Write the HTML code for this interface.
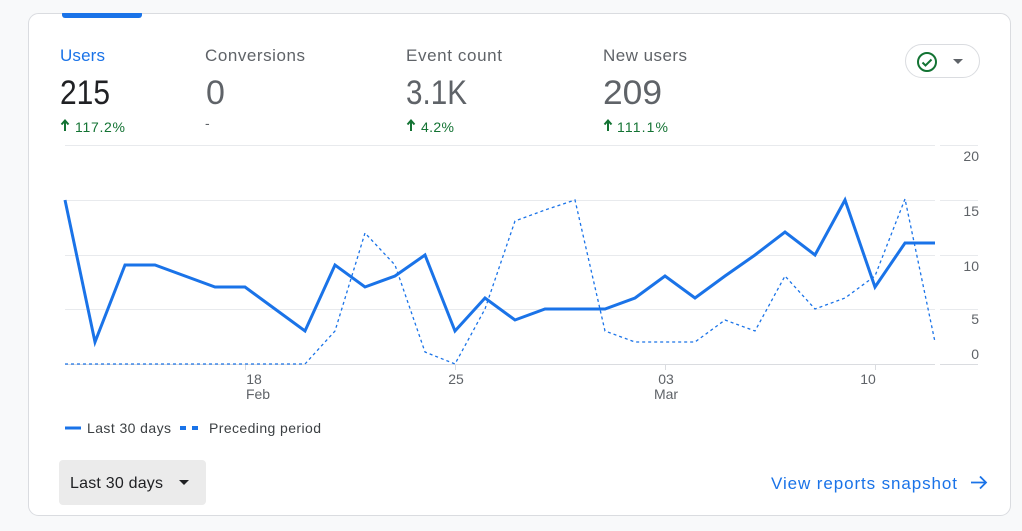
<!DOCTYPE html>
<html><head><meta charset="utf-8"><style>
html,body{margin:0;padding:0;width:1022px;height:531px;overflow:hidden;background:#f8f9fa;font-family:"Liberation Sans",Arial,sans-serif;}
</style></head><body>
<svg width="1022" height="531" xmlns="http://www.w3.org/2000/svg" style="position:absolute;left:0;top:0;font-family:'Liberation Sans',Arial,sans-serif">
<rect x="28.5" y="13.5" width="982" height="502" rx="10" fill="#fff" stroke="#dadce0"/>
<rect x="62" y="11" width="80" height="7" rx="3" fill="#1a73e8"/>
<rect x="62" y="8" width="80" height="5" fill="#f8f9fa"/>
<g font-size="17">
<text x="60" y="61" fill="#1a73e8" textLength="45">Users</text>
<text x="205" y="61" fill="#5f6368" textLength="100">Conversions</text>
<text x="406" y="61" fill="#5f6368" textLength="96">Event count</text>
<text x="603" y="61" fill="#5f6368" textLength="84">New users</text>
</g>
<g font-size="34">
<text x="60" y="104" fill="#202124" textLength="50" lengthAdjust="spacingAndGlyphs">215</text>
<text x="206" y="104" fill="#5f6368">0</text>
<text x="406" y="104" fill="#5f6368" textLength="61" lengthAdjust="spacingAndGlyphs">3.1K</text>
<text x="603" y="104" fill="#5f6368" textLength="59" lengthAdjust="spacingAndGlyphs">209</text>
</g>
<g font-size="14" fill="#137333">
<text x="75" y="132" textLength="50">117.2%</text>
<text x="421" y="132" textLength="33">4.2%</text>
<text x="617" y="132" textLength="51">111.1%</text>
</g>
<text x="205" y="128" font-size="14" fill="#5f6368">-</text>
<g stroke="#137333" stroke-width="2" fill="#137333">
<path d="M65 131V121M61.5 124.5L65 120.5L68.5 124.5" fill="none"/>
<path d="M411 131V121M407.5 124.5L411 120.5L414.5 124.5" fill="none"/>
<path d="M608 131V121M604.5 124.5L608 120.5L611.5 124.5" fill="none"/>
</g>
<rect x="905.5" y="44.5" width="74" height="33" rx="16.5" fill="#fff" stroke="#dadce0"/>
<circle cx="927" cy="62" r="9" fill="none" stroke="#137333" stroke-width="2"/>
<path d="M922.5 62.5l3 3 6-6" fill="none" stroke="#137333" stroke-width="2"/>
<path d="M953 59h10l-5 5z" fill="#5f6368"/>
<g stroke="#e8eaed" stroke-width="1">
<path d="M65 145.5H935M940 145.5H978"/>
<path d="M65 200.5H935M940 200.5H978"/>
<path d="M65 255.5H935M940 255.5H978"/>
<path d="M65 309.5H935M940 309.5H978"/>
<path d="M65 364.5H935M940 364.5H978" stroke="#dadce0"/>
<path d="M245.5 364V370M455.5 364V370M665.5 364V370M875.5 364V370" stroke="#dadce0"/>
</g>
<g font-size="14" fill="#5f6368" text-anchor="end">
<text x="979" y="161">20</text>
<text x="979" y="216">15</text>
<text x="979" y="271">10</text>
<text x="979" y="324">5</text>
<text x="979" y="359">0</text>
</g>
<g font-size="14" fill="#5f6368" text-anchor="middle">
<text x="254" y="384">18</text><text x="258" y="399">Feb</text>
<text x="456" y="384">25</text>
<text x="666" y="384">03</text><text x="666" y="399">Mar</text>
<text x="868" y="384">10</text>
</g>
<polyline fill="none" stroke="#1a73e8" stroke-width="1.3" stroke-dasharray="3,3" points="65,364 95,364 125,364 155,364 185,364 215,364 245,364 275,364 305,364 335,331 365,233 395,265 425,352 455,364 485,309 515,221 545,210 575,200 605,331 635,342 665,342 695,342 725,320 755,331 785,276 815,309 845,298 875,276 905,199 935,342"/>
<polyline fill="none" stroke="#1a73e8" stroke-width="3" points="65,200 95,342 125,265 155,265 185,276 215,287 245,287 275,309 305,331 335,265 365,287 395,276 425,255 455,331 485,298 515,320 545,309 575,309 605,309 635,298 665,276 695,298 725,276 755,255 785,232 815,255 845,200 875,287 905,243 935,243"/>
<path d="M65 428H81" stroke="#1a73e8" stroke-width="3"/>
<text x="87" y="433" font-size="14" fill="#3c4043" textLength="84">Last 30 days</text>
<path d="M180 428H186M192 428H198" stroke="#1a73e8" stroke-width="4"/>
<text x="209" y="433" font-size="14" fill="#3c4043" textLength="112">Preceding period</text>
<rect x="59" y="460" width="147" height="45" rx="4" fill="#ebebeb"/>
<text x="70" y="488" font-size="16" fill="#202124" textLength="93">Last 30 days</text>
<path d="M179 480h10l-5 5z" fill="#202124"/>
<text x="771" y="489" font-size="17" fill="#1a73e8" textLength="186">View reports snapshot</text>
<path d="M971 482.5H986M980 476.5L986 482.5L980 488.5" fill="none" stroke="#1a73e8" stroke-width="1.8"/>
</svg>
</body></html>
